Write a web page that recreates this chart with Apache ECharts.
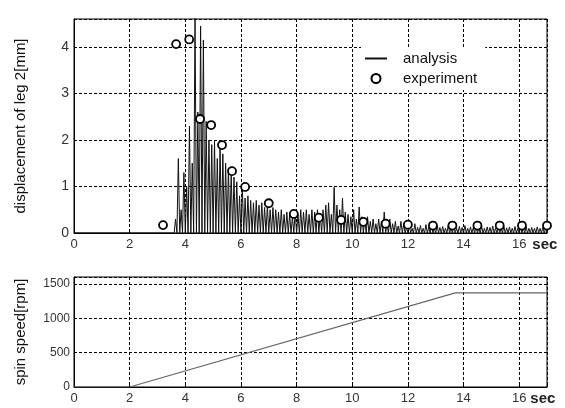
<!DOCTYPE html>
<html>
<head>
<meta charset="utf-8">
<script src="https://cdn.jsdelivr.net/npm/echarts@6/dist/echarts.min.js"></script>
<style>
  html, body { margin: 0; padding: 0; background: #fff; }
  #mainChart { width: 565px; height: 408px; }
</style>
</head>
<body>
<div id="mainChart"></div>
<script>
// spin speed profile (sec, rpm)
var speedTime = [0, 2, 13.7, 17];
var speedRpm = [0, 0, 1370, 1370];

// experiment points (sec, mm)
var expTime = [3.2, 3.67, 4.14, 4.53, 4.93, 5.32, 5.68, 6.15, 7.0, 7.9, 8.8, 9.6, 10.4, 11.2, 12.0, 12.9, 13.6, 14.5, 15.3, 16.1, 17.0];
var expDisp = [0.17, 4.06, 4.16, 2.45, 2.32, 1.89, 1.33, 0.99, 0.64, 0.41, 0.33, 0.28, 0.24, 0.2, 0.18, 0.16, 0.16, 0.16, 0.16, 0.16, 0.16];

// analysis: oscillation peaks read every 0.1 sec starting at 3.6 sec
var peakStart = 3.6;
var peakStep = 0.1;
var peakDisp = [
  0.3, 1.6, 0.5, 1.3, 1.0, 2.3, 1.5, 4.7, 2.6, 4.45,
  4.15, 2.4, 2.0, 1.9, 2.0, 1.6, 1.9, 1.7, 1.5, 1.4,
  1.3, 1.2, 1.1, 0.8, 1.0, 0.75, 0.8, 0.7, 0.65, 0.7,
  0.6, 0.65, 0.55, 0.6, 0.5, 0.55, 0.5, 0.45, 0.5, 0.4,
  0.45, 0.4, 0.35, 0.45, 0.4, 0.5, 0.45, 0.5, 0.4, 0.5,
  0.45, 0.5, 0.4, 0.5, 0.6, 0.65, 0.4, 0.98, 0.6, 0.5,
  0.75, 0.45, 0.4, 0.35, 0.5, 0.3, 0.56, 0.35, 0.3, 0.35,
  0.25, 0.3, 0.2, 0.3, 0.25, 0.45, 0.2, 0.3, 0.2, 0.25,
  0.15, 0.25, 0.2, 0.12, 0.18, 0.1, 0.2, 0.12, 0.16, 0.1,
  0.18, 0.12, 0.15, 0.1, 0.17, 0.12, 0.14, 0.1, 0.16, 0.11,
  0.15, 0.1, 0.14, 0.12, 0.16, 0.1, 0.13, 0.11, 0.15, 0.1,
  0.14, 0.1, 0.13, 0.12, 0.15, 0.1, 0.13, 0.1, 0.14, 0.11,
  0.13, 0.1, 0.14, 0.1, 0.12, 0.11, 0.13, 0.1, 0.12, 0.1,
  0.13, 0.1, 0.12, 0.1, 0.12
];

var xTicks = [0, 2, 4, 6, 8, 10, 12, 14, 16];

// build spike line from the peaks (zero between peaks)
var analysisData = [[0, 0], [peakStart, 0]];
for (var i = 0; i < peakDisp.length; i++) {
  var t = peakStart + i * peakStep;
  analysisData.push([t + peakStep / 2, peakDisp[i]]);
  analysisData.push([t + peakStep, 0]);
}
var expData = expTime.map(function (t, i) { return [t, expDisp[i]]; });
var speedData = speedTime.map(function (t, i) { return [t, speedRpm[i]]; });

var font = 'Liberation Sans';
var gridLine = { show: true, lineStyle: { color: '#000', type: [3, 2], width: 1 } };

function xAxisCfg(gridIndex) {
  return {
    type: 'value', gridIndex: gridIndex, min: 0, max: 17, interval: 2,
    name: 'sec', nameLocation: 'end', nameGap: -21,
    nameTextStyle: { fontFamily: font, fontSize: 15, fontWeight: 'bold', color: '#222',
      align: 'left', verticalAlign: 'top', padding: [4, 0, 0, 0] },
    axisLine: { show: true, onZero: false, lineStyle: { color: '#000' } },
    axisTick: { show: true, inside: true, length: 3, lineStyle: { color: '#000' } },
    axisLabel: { fontFamily: font, fontSize: 13, color: '#333', margin: 5,
      formatter: function (v) { return xTicks.indexOf(v) >= 0 ? String(v) : ''; } },
    splitLine: gridLine
  };
}

var chart = echarts.init(document.getElementById('mainChart'));

var option = {
  backgroundColor: '#fff',
  animation: false,
  grid: [
    { left: 74, right: 18, top: 19, height: 214, show: true, borderColor: '#000', borderWidth: 1 },
    { left: 74, right: 18, top: 277, height: 110, show: true, borderColor: '#000', borderWidth: 1 }
  ],
  legend: {
    orient: 'vertical', left: 361, top: 47, itemGap: 5, itemWidth: 22, itemHeight: 9,
    backgroundColor: '#fff', padding: [4, 8, 4, 4],
    textStyle: { fontFamily: font, fontSize: 15, color: '#111', padding: [0, 0, 0, 11] },
    data: [
      { name: 'analysis', icon: 'path://M0,0 L22,0 L22,2 L0,2 Z' },
      { name: 'experiment', icon: 'circle' }
    ]
  },
  xAxis: [xAxisCfg(0), xAxisCfg(1)],
  yAxis: [
    {
      type: 'value', gridIndex: 0, min: 0, max: 4.6, interval: 1,
      name: 'displacement of leg 2[mm]', nameLocation: 'middle', nameGap: 46,
      nameTextStyle: { fontFamily: font, fontSize: 15, color: '#111' },
      axisLine: { show: true, lineStyle: { color: '#000' } },
      axisTick: { show: true, inside: true, length: 3, lineStyle: { color: '#000' } },
      axisLabel: { fontFamily: font, fontSize: 14, color: '#333', margin: 5,
        formatter: function (v) { return v % 1 === 0 ? String(v) : ''; } },
      splitLine: gridLine
    },
    {
      type: 'value', gridIndex: 1, min: 0, max: 1600, interval: 500,
      name: 'spin speed[rpm]', nameLocation: 'middle', nameGap: 46,
      nameTextStyle: { fontFamily: font, fontSize: 15, color: '#111' },
      axisLine: { show: true, lineStyle: { color: '#000' } },
      axisTick: { show: true, inside: true, length: 3, lineStyle: { color: '#000' } },
      axisLabel: { fontFamily: font, fontSize: 12, color: '#333', margin: 4,
        formatter: function (v) { return v % 500 === 0 ? String(v) : ''; } },
      splitLine: gridLine
    }
  ],
  series: [
    {
      name: 'analysis', type: 'line', xAxisIndex: 0, yAxisIndex: 0,
      data: analysisData, symbol: 'none', clip: true,
      lineStyle: { color: '#111', width: 1 }, itemStyle: { color: '#111' }
    },
    {
      name: 'experiment', type: 'scatter', xAxisIndex: 0, yAxisIndex: 0,
      data: expData, symbol: 'circle', symbolSize: 8, clip: false, z: 5,
      itemStyle: { color: '#fff', borderColor: '#000', borderWidth: 1.8, opacity: 1 }
    },
    {
      name: 'speed', type: 'line', xAxisIndex: 1, yAxisIndex: 1,
      data: speedData, symbol: 'none',
      lineStyle: { color: '#666', width: 1.2 }
    }
  ]
};

chart.setOption(option);
</script>
</body>
</html>
